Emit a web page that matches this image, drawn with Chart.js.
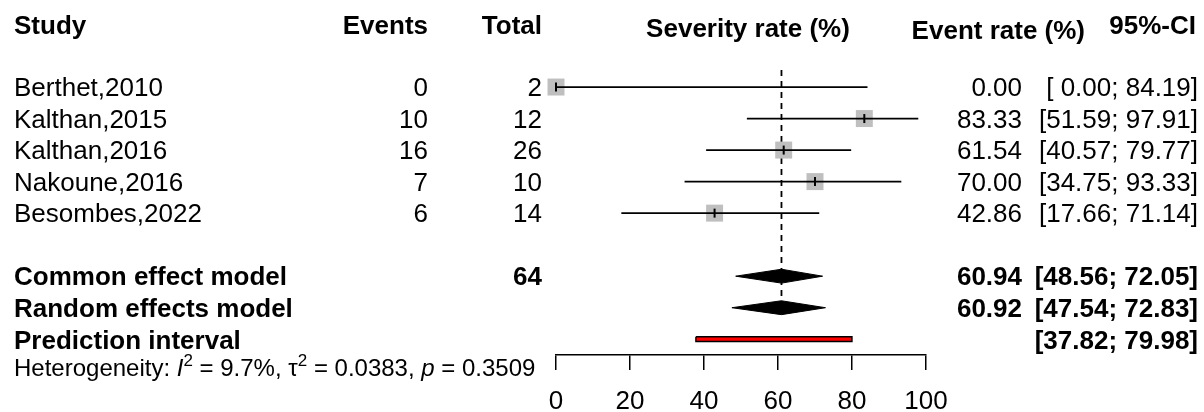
<!DOCTYPE html>
<html>
<head>
<meta charset="utf-8">
<script src="https://cdn.jsdelivr.net/npm/chart.js@4.4.0/dist/chart.umd.min.js"></script>
<style>
  html, body { margin: 0; padding: 0; background: #fff; overflow: hidden; }
  #wrap { width: 1204px; height: 412px; overflow: hidden; position: relative; }
</style>
</head>
<body>
<div id="wrap"><canvas id="forest" width="1204" height="412"></canvas></div>
<script>
// DATA
const studies = ['Berthet,2010', 'Kalthan,2015', 'Kalthan,2016', 'Nakoune,2016', 'Besombes,2022'];
const events = [0, 10, 16, 7, 6];
const totals = [2, 12, 26, 10, 14];
const rates = [0.00, 83.33, 61.54, 70.00, 42.86];
const ciLow = [0.00, 51.59, 40.57, 34.75, 17.66];
const ciHigh = [84.19, 97.91, 79.77, 93.33, 71.14];

const totalN = 64;
const commonEst = 60.94, commonCI = [48.56, 72.05];
const randomEst = 60.92, randomCI = [47.54, 72.83];
const predCI = [37.82, 79.98];
const hetI2 = '9.7%', hetTau2 = '0.0383', hetP = '0.3509';

const axisTicks = [0, 20, 40, 60, 80, 100];

// LAYOUT
const FONT = '"Liberation Sans", Arial, sans-serif';
const ROW_COMMON = 7, ROW_RANDOM = 8, ROW_PRED = 9;
const DIAMOND_H = 0.22;   // half height in row units
const PRED_H = 0.075;

function pad5(v) {
    const s = v.toFixed(2);
    return s.length < 5 ? ' '.repeat(5 - s.length) + s : s;
}
function ciText(lo, hi) {
    return '[' + pad5(lo) + '; ' + pad5(hi) + ']';
}

// DATASETS
const datasets = [];

// reference line (common effect)
datasets.push({
    type: 'line',
    data: [{ x: commonEst, y: 0.46 }, { x: commonEst, y: 7.75 }],
    borderColor: '#000', borderWidth: 1.8, borderDash: [6, 5],
    pointRadius: 0, order: 10, clip: false
});

// study squares
datasets.push({
    type: 'scatter',
    data: rates.map((v, i) => ({ x: v, y: i + 1 })),
    pointStyle: 'rect', pointRadius: 12,
    backgroundColor: '#bfbfbf', borderWidth: 0,
    order: 5, clip: false
});

// confidence intervals
studies.forEach((s, i) => {
    datasets.push({
        type: 'line',
        data: [{ x: ciLow[i], y: i + 1 }, { x: ciHigh[i], y: i + 1 }],
        borderColor: '#000', borderWidth: 1.8, pointRadius: 0,
        order: 2, clip: false
    });
});

// point estimate ticks
datasets.push({
    type: 'scatter',
    data: rates.map((v, i) => ({ x: v, y: i + 1 })),
    pointStyle: 'line', pointRotation: 90, pointRadius: 4.5,
    borderColor: '#000', borderWidth: 2,
    order: 1, clip: false
});

// diamonds
function diamond(est, ci, row) {
    return {
        type: 'line',
        data: [
            { x: ci[0], y: row }, { x: est, y: row - DIAMOND_H },
            { x: ci[1], y: row }, { x: est, y: row + DIAMOND_H },
            { x: ci[0], y: row }
        ],
        borderColor: '#000', borderWidth: 1, backgroundColor: '#000',
        fill: 'shape', pointRadius: 0, tension: 0, order: 3, clip: false
    };
}
datasets.push(diamond(commonEst, commonCI, ROW_COMMON));
datasets.push(diamond(randomEst, randomCI, ROW_RANDOM));

// prediction interval
datasets.push({
    type: 'line',
    data: [
        { x: predCI[0], y: ROW_PRED - PRED_H }, { x: predCI[1], y: ROW_PRED - PRED_H },
        { x: predCI[1], y: ROW_PRED + PRED_H }, { x: predCI[0], y: ROW_PRED + PRED_H },
        { x: predCI[0], y: ROW_PRED - PRED_H }
    ],
    borderColor: '#000', borderWidth: 1.5, backgroundColor: '#ff0000',
    fill: 'shape', pointRadius: 0, order: 3, clip: false
});

// TEXT PLUGIN
function put(ctx, s, x, y, align, bold, size) {
    ctx.font = (bold ? 'bold ' : '') + (size || 26) + 'px ' + FONT;
    ctx.textAlign = align;
    ctx.fillText(s, x, y);
}

const textPlugin = {
    id: 'forestText',
    afterDraw(chart) {
        const ctx = chart.ctx;
        const y = chart.scales.y;
        const base = r => y.getPixelForValue(r) + 9.3;
        ctx.save();
        ctx.fillStyle = '#000';
        ctx.textBaseline = 'alphabetic';

        // headers
        put(ctx, 'Study', 14, 34, 'left', true);
        put(ctx, 'Events', 428, 34, 'right', true);
        put(ctx, 'Total', 542, 34, 'right', true);
        put(ctx, 'Severity rate (%)', 748, 37, 'center', true);
        put(ctx, 'Event rate (%)', 1085, 39, 'right', true);
        put(ctx, '95%-CI', 1196, 34, 'right', true);

        // studies
        studies.forEach((s, i) => {
            const b = base(i + 1);
            put(ctx, s, 14, b, 'left');
            put(ctx, String(events[i]), 428, b, 'right');
            put(ctx, String(totals[i]), 542, b, 'right');
            put(ctx, rates[i].toFixed(2), 1022, b, 'right');
            put(ctx, ciText(ciLow[i], ciHigh[i]), 1198, b, 'right');
        });

        // pooled
        let b = base(ROW_COMMON);
        put(ctx, 'Common effect model', 14, b, 'left', true);
        put(ctx, String(totalN), 542, b, 'right', true);
        put(ctx, commonEst.toFixed(2), 1022, b, 'right', true);
        put(ctx, ciText(commonCI[0], commonCI[1]), 1198, b, 'right', true);

        b = base(ROW_RANDOM);
        put(ctx, 'Random effects model', 14, b, 'left', true);
        put(ctx, randomEst.toFixed(2), 1022, b, 'right', true);
        put(ctx, ciText(randomCI[0], randomCI[1]), 1198, b, 'right', true);

        b = base(ROW_PRED);
        put(ctx, 'Prediction interval', 14, b, 'left', true);
        put(ctx, ciText(predCI[0], predCI[1]), 1198, b, 'right', true);

        // heterogeneity
        const parts = [
            { t: 'Heterogeneity: ' }, { t: 'I', it: true }, { t: '2', sup: true },
            { t: ' = ' + hetI2 + ', ' }, { t: '\u03c4' }, { t: '2', sup: true },
            { t: ' = ' + hetTau2 + ', ' }, { t: 'p', it: true }, { t: ' = ' + hetP }
        ];
        let x = 14;
        const hb = 376;
        ctx.textAlign = 'left';
        parts.forEach(p => {
            const size = p.sup ? 17 : 24;
            ctx.font = (p.it ? 'italic ' : '') + size + 'px ' + FONT;
            ctx.fillText(p.t, x, p.sup ? hb - 10 : hb);
            x += ctx.measureText(p.t).width;
        });
        ctx.restore();
    }
};

// CHART
new Chart(document.getElementById('forest'), {
    type: 'scatter',
    data: { datasets },
    options: {
        responsive: false,
        animation: false,
        devicePixelRatio: 1,
        layout: { padding: { left: 556, right: 278, top: 55.5, bottom: 0 } },
        plugins: { legend: { display: false }, tooltip: { enabled: false } },
        scales: {
            x: {
                type: 'linear', min: 0, max: 100, position: 'bottom',
                afterBuildTicks: s => { s.ticks = axisTicks.map(v => ({ value: v })); },
                afterFit: s => { s.height = 57; },
                ticks: { color: '#000', font: { family: FONT, size: 26 }, padding: 16, maxRotation: 0 },
                grid: { drawOnChartArea: false, drawTicks: true, tickLength: 15, color: '#000', lineWidth: 1.5 },
                border: { display: true, color: '#000', width: 1.5 }
            },
            y: { type: 'linear', min: 0, max: 9.5, reverse: true, display: false }
        }
    },
    plugins: [textPlugin]
});
</script>
</body>
</html>
